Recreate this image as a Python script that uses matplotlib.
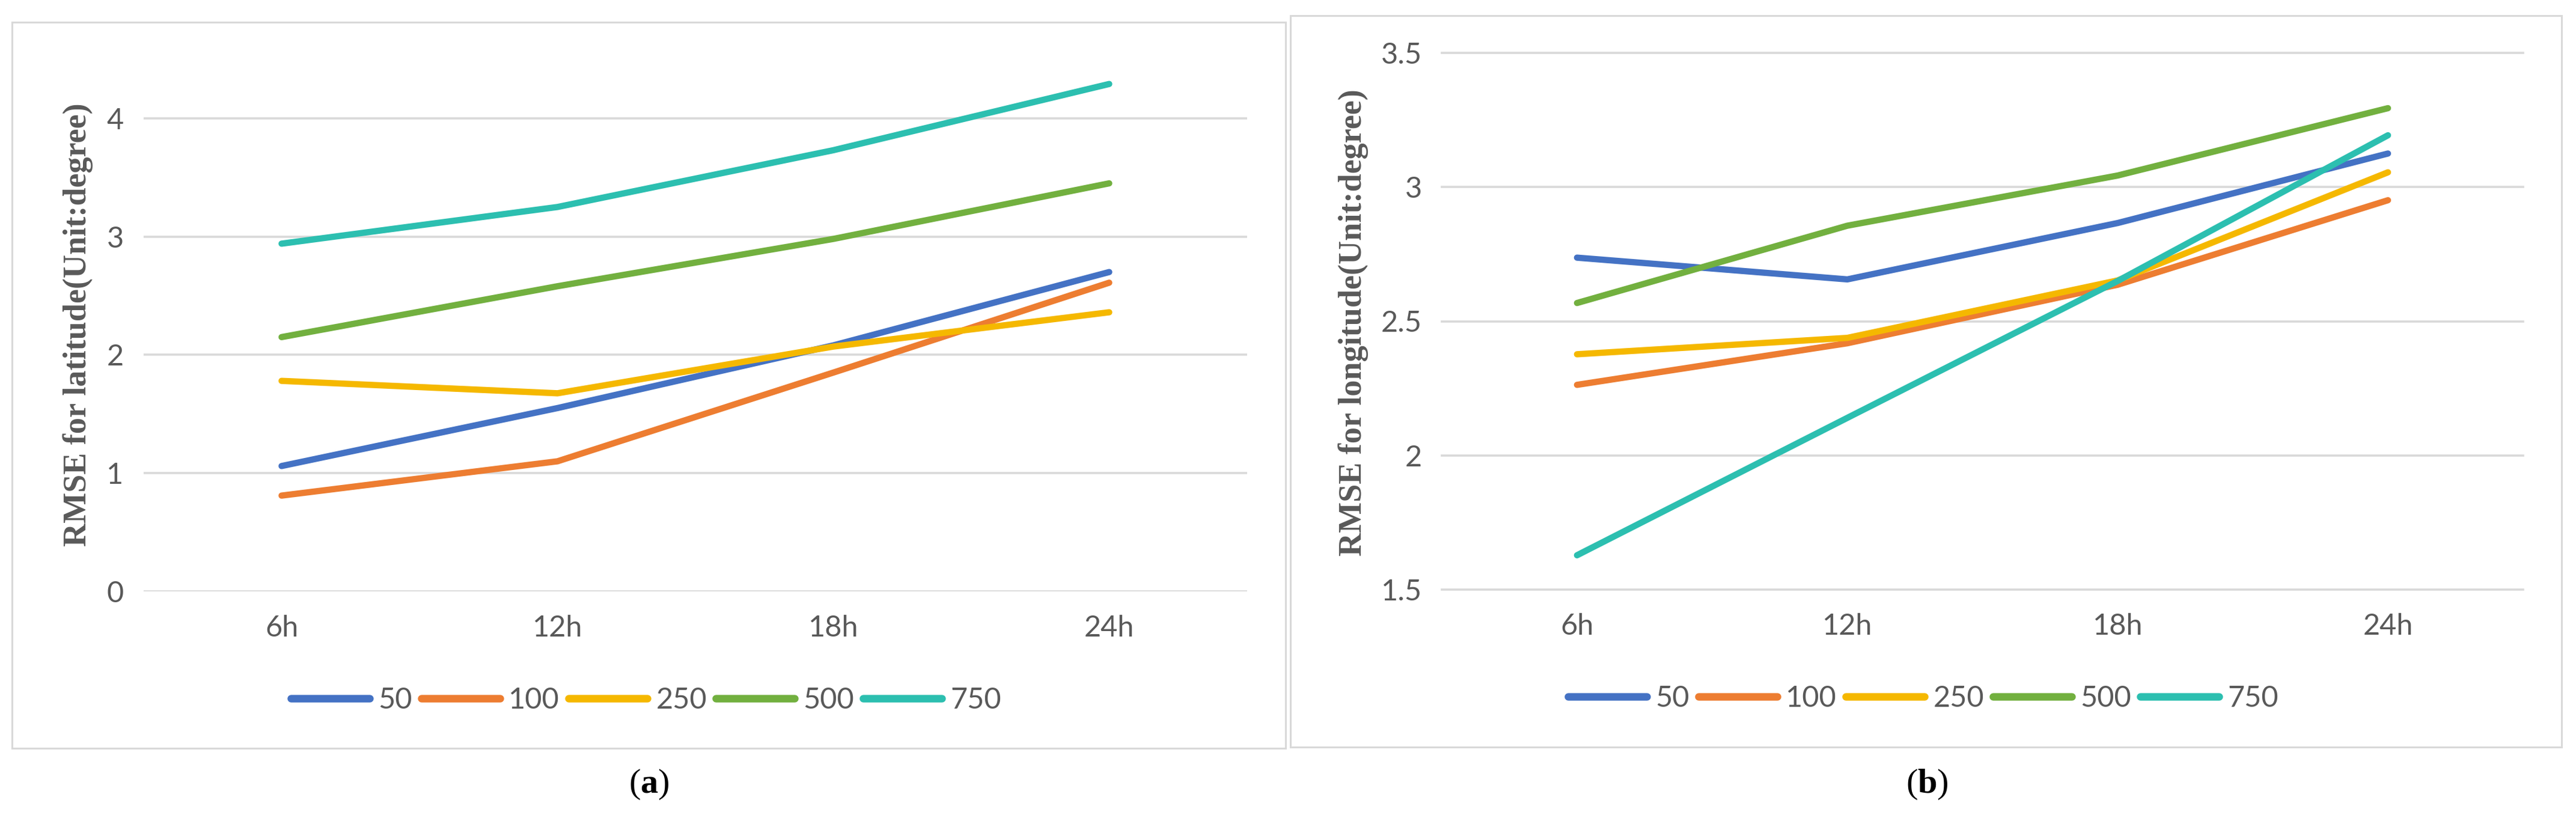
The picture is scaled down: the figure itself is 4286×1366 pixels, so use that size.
import matplotlib
matplotlib.use("Agg")
import matplotlib.pyplot as plt
from matplotlib import font_manager
from matplotlib.patches import Rectangle

# ---------------- data ----------------
categories = ["6h", "12h", "18h", "24h"]
series_names = ["50", "100", "250", "500", "750"]

lat_50 = [1.06, 1.55, 2.08, 2.70]
lat_100 = [0.81, 1.10, 1.85, 2.61]
lat_250 = [1.78, 1.675, 2.07, 2.36]
lat_500 = [2.15, 2.58, 2.98, 3.45]
lat_750 = [2.94, 3.25, 3.73, 4.29]

lon_50 = [2.737, 2.656, 2.866, 3.125]
lon_100 = [2.263, 2.418, 2.636, 2.951]
lon_250 = [2.377, 2.438, 2.652, 3.055]
lon_500 = [2.568, 2.856, 3.043, 3.294]
lon_750 = [1.628, 2.14, 2.65, 3.193]

lat_ticks = [0, 1, 2, 3, 4]
lon_ticks = [1.5, 2, 2.5, 3, 3.5]
lon_tick_labels = ["1.5", "2", "2.5", "3", "3.5"]

colors = ["#4472C4", "#ED7D31", "#F5B800", "#72B03F", "#2CBFB0"]

# ---------------- fonts ----------------
avail = {f.name for f in font_manager.fontManager.ttflist}
if "Liberation Sans Narrow" in avail:
    narrow = "Liberation Sans Narrow"
elif "Lato" in avail:
    narrow = "Lato"
else:
    narrow = "DejaVu Sans"
serif = "Liberation Serif" if "Liberation Serif" in avail else "DejaVu Serif"
txt_color = "#595959"
grid_color = "#D9D9D9"

plt.rcParams["mathtext.fontset"] = "custom"
plt.rcParams["mathtext.rm"] = serif
plt.rcParams["mathtext.bf"] = serif + ":bold"

W, H = 4286, 1366
fig = plt.figure(figsize=(W / 100, H / 100), dpi=100)
fig.patch.set_facecolor("white")


def fx(px):
    return px / W


def fy(py):
    return 1 - py / H


# panel borders
for (x0, y0, x1, y1) in [(20, 37, 2139, 1245), (2147, 26, 4262, 1243)]:
    fig.add_artist(Rectangle((fx(x0), fy(y1)), fx(x1) - fx(x0), fy(y0) - fy(y1),
                             transform=fig.transFigure, fill=False,
                             edgecolor=grid_color, linewidth=2.2))


def style_axes(ax, yticks, ylabels, ylim):
    ax.set_xlim(-0.5, 3.5)
    ax.set_ylim(*ylim)
    ax.set_yticks(yticks)
    ax.set_yticklabels(ylabels)
    ax.set_xticks(range(len(categories)))
    ax.set_xticklabels(categories)
    for s in ax.spines.values():
        s.set_visible(False)
    ax.grid(axis="y", color=grid_color, linewidth=2.6)
    ax.set_axisbelow(True)
    ax.tick_params(axis="both", length=0, labelcolor=txt_color, labelsize=35)
    ax.tick_params(axis="x", pad=28)
    ax.tick_params(axis="y", pad=24)
    for lab in ax.get_xticklabels() + ax.get_yticklabels():
        lab.set_fontfamily(narrow)
    ax.patch.set_alpha(0)


# ---------------- left panel ----------------
axL = fig.add_axes([fx(239), fy(984), fx(2075) - fx(239), fy(98.4) - fy(984)])
lat_series = [lat_50, lat_100, lat_250, lat_500, lat_750]
x = list(range(len(categories)))
handles = []
for vals, c, name in zip(lat_series, colors, series_names):
    h, = axL.plot(x, vals, color=c, linewidth=7.5, solid_capstyle="round",
                  solid_joinstyle="round", label=name)
    handles.append(h)
style_axes(axL, lat_ticks, [str(t) for t in lat_ticks], (0, 4.5))

# ---------------- right panel ----------------
axR = fig.add_axes([fx(2399), fy(981), fx(4198) - fx(2399), fy(88) - fy(981)])
lon_series = [lon_50, lon_100, lon_250, lon_500, lon_750]
for vals, c, name in zip(lon_series, colors, series_names):
    axR.plot(x, vals, color=c, linewidth=7.5, solid_capstyle="round",
             solid_joinstyle="round", label=name)
style_axes(axR, lon_ticks, lon_tick_labels, (1.5, 3.5))
for gl in axR.get_ygridlines():
    gl.set_clip_on(False)

# y labels
fig.text(fx(130), fy(540), "RMSE for latitude(Unit:degree)", rotation=90,
         ha="center", va="center", fontfamily=serif, fontweight="bold",
         fontsize=39, color=txt_color)
fig.text(fx(2252), fy(537), "RMSE for longitude(Unit:degree)", rotation=90,
         ha="center", va="center", fontfamily=serif, fontweight="bold",
         fontsize=39, color=txt_color)

# legends
for cx, cy in [(1075, 1165), (3200, 1162)]:
    leg = fig.legend(handles=handles, labels=series_names, loc="center",
                     bbox_to_anchor=(fx(cx), fy(cy)), ncol=5, frameon=False,
                     prop={"family": narrow, "size": 35},
                     handlelength=2.7, handletextpad=0.3, columnspacing=0.3)
    for t in leg.get_texts():
        t.set_color(txt_color)
    for lh in leg.get_lines():
        lh.set_linewidth(9)
        lh.set_solid_capstyle("round")

# captions
for cx, letter in [(1080, "a"), (3206, "b")]:
    fig.text(fx(cx), fy(1305), "(" + r"$\mathbf{" + letter + "}$" + ")",
             ha="center", va="center", fontfamily=serif, fontsize=42,
             color="black")

fig.savefig("out.png", dpi=100, facecolor="white")
